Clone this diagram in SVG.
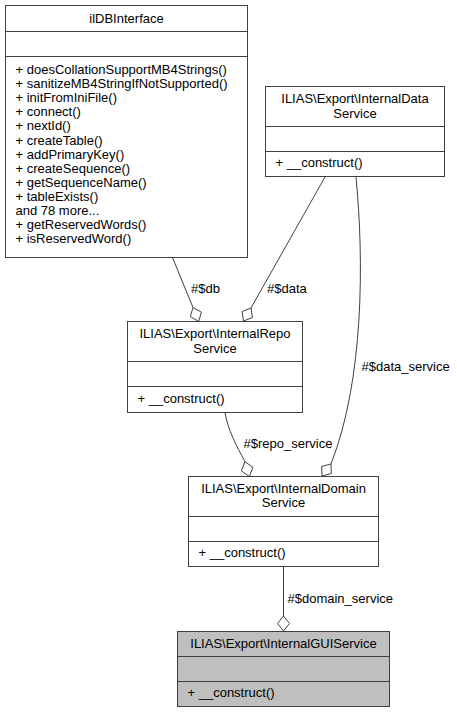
<svg xmlns="http://www.w3.org/2000/svg" width="457" height="713" viewBox="0 0 457 713">
<style>
.box{fill:#ffffff;stroke:#404040;stroke-width:1}
.cur{fill:#bfbfbf;stroke:#404040;stroke-width:1}
.sep{stroke:#404040;stroke-width:1}
text{font-family:"Liberation Sans",Arial,Helvetica,sans-serif;font-size:13px;fill:#000000}
.c{text-anchor:middle}
.edge{fill:none;stroke:#404040;stroke-width:1}
.dia{fill:#ffffff;stroke:#404040;stroke-width:1}
</style>
<rect width="457" height="713" fill="#ffffff"/>
<g id="edges">
<path class="edge" d="M172.7,258 L193,307.5"/>
<polygon class="dia" points="193,307.5 201.4,312.2 198.7,321.4 190.3,316.7"/>
<text x="191" y="293">#$db</text>
<path class="edge" d="M325,177 L251,308"/>
<polygon class="dia" points="251,308 252.4,317.5 243.5,321 242.1,311.5"/>
<text x="267" y="293">#$data</text>
<path class="edge" d="M356,177 C364,260 364,380 331,464"/>
<polygon class="dia" points="331,464 331.3,473.6 322,476 321.7,466.4"/>
<text x="361.5" y="371">#$data_service</text>
<path class="edge" d="M225,412.5 C228,430 236,445 245,461.7"/>
<polygon class="dia" points="245,461.7 252.9,467.4 249.3,476.5 241.4,470.8"/>
<text x="243.5" y="448">#$repo_service</text>
<path class="edge" d="M283.5,566.5 L283.5,616"/>
<polygon class="dia" points="283.5,616 289.5,623.5 283.5,631 277.5,623.5"/>
<text x="287.5" y="603">#$domain_service</text>
</g>
<g id="ilDBInterface">
<rect class="box" x="5.5" y="5.5" width="242" height="252"/>
<line class="sep" x1="5.5" y1="31.5" x2="247.5" y2="31.5"/>
<line class="sep" x1="5.5" y1="56.5" x2="247.5" y2="56.5"/>
<text class="c" x="126.5" y="22.5">ilDBInterface</text>
<text x="15.5" y="74">+ doesCollationSupportMB4Strings()</text>
<text x="15.5" y="88.1">+ sanitizeMB4StringIfNotSupported()</text>
<text x="15.5" y="102.2">+ initFromIniFile()</text>
<text x="15.5" y="116.3">+ connect()</text>
<text x="15.5" y="130.4">+ nextId()</text>
<text x="15.5" y="144.5">+ createTable()</text>
<text x="15.5" y="158.6">+ addPrimaryKey()</text>
<text x="15.5" y="172.7">+ createSequence()</text>
<text x="15.5" y="186.8">+ getSequenceName()</text>
<text x="15.5" y="200.9">+ tableExists()</text>
<text x="15.5" y="215">and 78 more...</text>
<text x="15.5" y="229.1">+ getReservedWords()</text>
<text x="15.5" y="243.2">+ isReservedWord()</text>
</g>
<g id="InternalDataService">
<rect class="box" x="265.5" y="86.5" width="179" height="90"/>
<line class="sep" x1="265.5" y1="126.5" x2="444.5" y2="126.5"/>
<line class="sep" x1="265.5" y1="151.5" x2="444.5" y2="151.5"/>
<text class="c" x="355" y="103.3">ILIAS\Export\InternalData</text>
<text class="c" x="355" y="117.7">Service</text>
<text x="275.5" y="167">+ __construct()</text>
</g>
<g id="InternalRepoService">
<rect class="box" x="127.5" y="321.5" width="175" height="91"/>
<line class="sep" x1="127.5" y1="361.5" x2="302.5" y2="361.5"/>
<line class="sep" x1="127.5" y1="386.5" x2="302.5" y2="386.5"/>
<text class="c" x="215" y="338.3">ILIAS\Export\InternalRepo</text>
<text class="c" x="215" y="352.7">Service</text>
<text x="137.5" y="402.7">+ __construct()</text>
</g>
<g id="InternalDomainService">
<rect class="box" x="188.5" y="476.5" width="190" height="90"/>
<line class="sep" x1="188.5" y1="516.5" x2="378.5" y2="516.5"/>
<line class="sep" x1="188.5" y1="541.5" x2="378.5" y2="541.5"/>
<text class="c" x="283.5" y="492.8">ILIAS\Export\InternalDomain</text>
<text class="c" x="283.5" y="507.2">Service</text>
<text x="198.5" y="557">+ __construct()</text>
</g>
<g id="InternalGUIService">
<rect class="cur" x="177.5" y="631.5" width="212" height="75"/>
<line class="sep" x1="177.5" y1="656.5" x2="389.5" y2="656.5"/>
<line class="sep" x1="177.5" y1="681.5" x2="389.5" y2="681.5"/>
<text class="c" x="283.5" y="648">ILIAS\Export\InternalGUIService</text>
<text x="187.5" y="697">+ __construct()</text>
</g>
</svg>
